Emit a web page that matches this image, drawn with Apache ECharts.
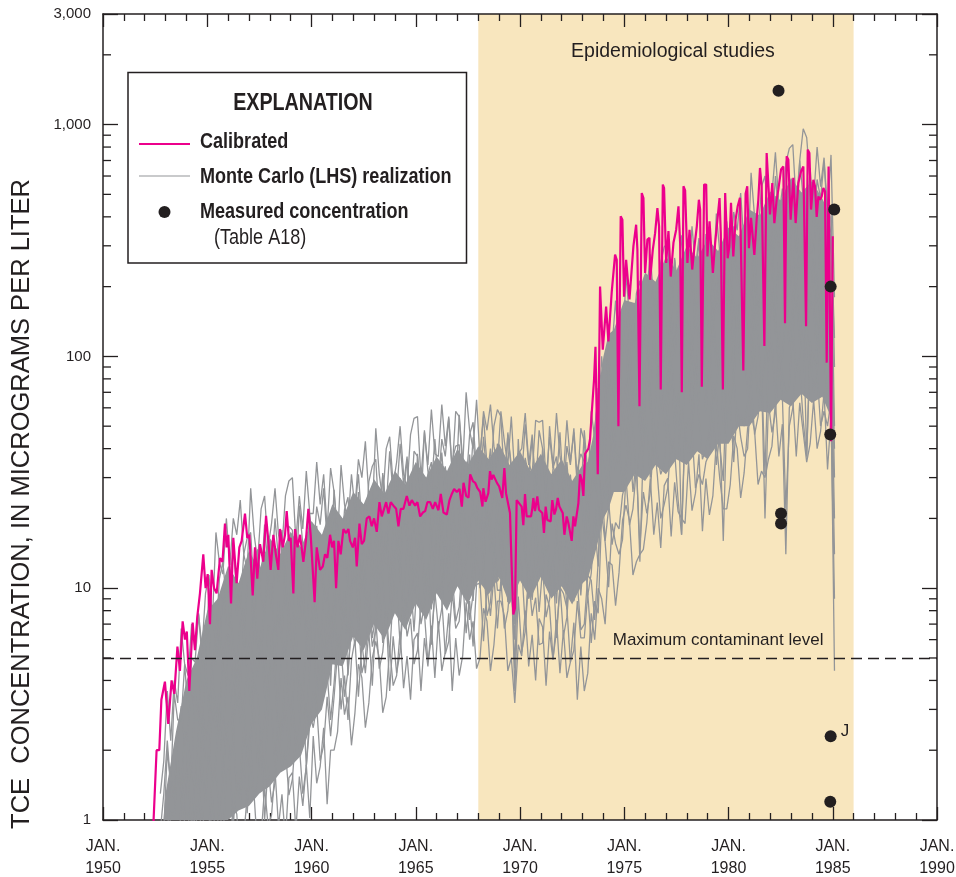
<!DOCTYPE html>
<html><head><meta charset="utf-8">
<script src="https://cdn.jsdelivr.net/npm/echarts@6/dist/echarts.min.js"></script>
<style>html,body{margin:0;padding:0;background:#fff;overflow:hidden}#c{width:956px;height:877px}</style>
</head><body><div id="c"></div>
<script>
const REG = '"Liberation Sans",Arial,sans-serif';
const INK = '#231f20';
const MAGENTA = '#EC008C';
const GRAY = '#939598';
const BAND = '#F8E6BE';
const NARROW_SCALE = 0.82;

// ---- axis / annotation values ----
const xRange = [1950, 1990];
const yRange = [1, 3000];
const yMinorTicks = [2,3,4,5,6,7,8,9,20,30,40,50,60,70,80,90,200,300,400,500,600,700,800,900,2000];
const studyPeriod = [1968.0, 1986.0];
const mclValue = 5;
const mclLabelYear = 1979.5;

// ---- calibrated simulation (year, value) ----
const calYear = [1952.38,1952.57,1952.7,1952.8,1952.97,1953.13,1953.29,1953.42,1953.57,1953.69,1953.82,1953.93,1954.02,1954.14,1954.3,1954.41,1954.52,1954.65,1954.81,1954.92,1955.02,1955.13,1955.21,1955.33,1955.45,1955.61,1955.73,1955.85,1955.93,1956.01,1956.14,1956.25,1956.41,1956.54,1956.65,1956.81,1956.92,1957.02,1957.18,1957.29,1957.4,1957.53,1957.69,1957.82,1957.93,1958.04,1958.17,1958.29,1958.41,1958.49,1958.62,1958.73,1958.81,1958.92,1959.0,1959.13,1959.21,1959.33,1959.45,1959.61,1959.73,1959.85,1959.96,1960.06,1960.15,1960.25,
1960.41,1960.54,1960.65,1960.76,1960.89,1960.99,1961.08,1961.18,1961.29,1961.4,1961.53,1961.66,1961.77,1961.85,1961.98,1962.09,1962.17,1962.3,1962.41,1962.52,1962.65,1962.78,1962.89,1963.0,1963.13,1963.26,1963.37,1963.48,1963.58,1963.69,1963.8,1963.93,1964.06,1964.17,1964.28,1964.41,1964.57,1964.7,1964.81,1964.97,1965.08,1965.21,1965.34,1965.45,1965.56,1965.69,1965.82,1965.93,1966.09,1966.2,1966.33,1966.49,1966.62,1966.73,1966.84,1966.97,1967.1,1967.21,1967.29,1967.42,1967.53,1967.61,1967.74,1967.85,1967.96,1968.09,1968.2,
1968.24,1968.35,1968.48,1968.56,1968.64,1968.72,1968.8,1968.9,1969.0,1969.09,1969.15,1969.25,1969.33,1969.41,1969.52,1969.6,1969.68,1969.76,1969.84,1969.92,1970.08,1970.16,1970.24,1970.32,1970.43,1970.53,1970.59,1970.64,1970.72,1970.83,1970.91,1970.99,1971.07,1971.15,1971.23,1971.31,1971.39,1971.47,1971.55,1971.65,1971.73,1971.81,1971.89,1971.97,1972.05,1972.13,1972.24,1972.32,1972.4,1972.48,1972.56,1972.64,1972.72,1972.8,1972.88,1972.96,1973.04,1973.12,1973.28,1973.36,1973.44,1973.55,1973.62,1973.73,1973.84,
1973.97,1974.13,1974.24,1974.4,1974.56,1974.64,1974.72,1974.83,1974.91,1974.99,1975.09,1975.15,1975.25,1975.44,1975.57,1975.63,1975.73,1975.84,1975.92,1976.0,1976.11,1976.21,1976.24,1976.37,1976.48,1976.59,1976.67,1976.75,1976.85,1976.91,1977.01,1977.12,1977.23,1977.36,1977.49,1977.6,1977.68,1977.76,1977.84,1977.92,1978.03,1978.13,1978.26,1978.37,1978.48,1978.58,1978.64,1978.72,1978.83,1978.93,1978.99,1979.09,1979.25,1979.36,1979.47,1979.57,1979.63,1979.73,1979.84,1979.92,1979.96,1980.04,1980.12,1980.23,1980.34,1980.44,1980.55,1980.63,1980.71,1980.82,1980.9,1980.98,1981.08,1981.14,1981.24,1981.35,1981.43,1981.51,1981.59,1981.72,1981.83,1981.91,1981.99,1982.1,1982.2,1982.31,1982.39,1982.52,1982.63,1982.71,1982.79,1982.87,1982.98,1983.11,1983.22,1983.35,1983.48,1983.59,1983.72,1983.8,1983.88,1983.96,1984.07,1984.15,1984.23,1984.31,1984.39,1984.47,1984.55,1984.63,1984.71,1984.8,1984.92,1985.0];
const calValue = [0.8,2.0,2.0,3.3,3.95,2.6,4.0,3.5,5.6,4.4,7.2,6.0,6.5,3.6,7.1,5.4,7.5,9.5,14,10,11.5,7,12,10,9.5,13.5,13,19,15,17,8.6,16.5,10.5,15,16,21,16.5,17,9.3,15,11,15.5,13,20.5,16,12,17,14,12,18,15,17,21.5,16,16.5,9.5,18,15,17,13,16,22,17,12,8.7,15,
12,12.4,14,13.5,17,15,16,10,16,14,18,17.3,18,16,15,16.5,12.4,19,15.5,16,20,20.4,18.5,20,17.5,23.5,20.4,22,23.5,21,23.5,22.7,22,18.5,22,22,25,22.7,24,22.7,23.5,20.4,21.2,21.5,23.5,23.5,22,23.5,21.7,25.5,21.2,20.8,24,25.5,26.8,26,26.8,22.5,28.5,25,24.6,31,29,28.5,27,26,22.5,
27,23.6,25.7,32,29.4,30.8,30.3,28.4,27.5,27.9,24.5,33,25.7,25.2,21.1,12.4,7.7,8.2,24,23.6,22.5,18.7,25.5,20.4,20.4,20.4,22.1,24.5,21.5,24.9,21.8,22.2,21.1,17.3,22.5,19.7,19.4,19.4,24,20.8,22,24.5,22.5,22.5,21.1,17,20.4,19.1,19.4,16,20.4,18.5,18.5,23.3,31,29.4,25,38,40,44,57,79,110,31,200,
107,164,116,190,275,261,50,402,389,181,261,261,176,299,370,289,61,507,482,229,319,325,214,289,340,436,364,72,551,532,253,347,221,309,352,444,309,70,542,520,253,352,237,299,364,474,430,74,551,551,270,383,229,309,389,482,340,72,507,500,265,298,460,270,389,444,483,490,87,503,542,293,396,389,274,389,474,650,542,111,754,742,410,560,376,474,524,640,660,139,730,706,389,589,376,560,629,660,135,780,754,430,578,542,400,490,474,490,533,515,94,660,43,330];

// ---- measured concentrations (Table A18) ----
const measYear  = [1982.4, 1982.52, 1982.52, 1985.07, 1984.9, 1984.88, 1984.9, 1984.88];
const measValue = [1400, 21, 19, 430, 200, 46, 2.3, 1.2];
const measQualifier = ['', '', '', '', '', '', 'J', ''];

// ---- dense core of the Monte Carlo envelope (year, high, low) ----
const coreYear = [1952.9,1953.0,1953.5,1954.0,1954.5,1955.0,1955.5,1956.0,1956.5,1957.0,1957.5,1958.0,1958.5,1959.0,1959.5,1960.0,1960.5,1961.0,1961.5,1962.0,1962.5,1963.0,1963.5,1964.0,1964.5,1965.0,1965.5,1966.0,1966.5,1967.0,1967.5,1968.0,1968.5,1969.0,1969.5,1970.0,1970.5,1971.0,1971.5,1972.0,1972.5,1973.0,1973.25,1973.5,1973.75,1974.0,1974.25,1974.5,1975.0,1975.5,1976.0,1976.5,1977.0,1977.5,1978.0,1978.5,1979.0,1979.5,1980.0,1980.5,1981.0,1981.5,1982.0,1982.5,1983.0,1983.5,1984.0,1984.5,1984.9];
const coreHigh = [1.0,1.3,2.4,4.0,5.0,8.0,9.0,12.5,10.5,14.5,12,16.5,14,17.5,15,19.5,17,23,20,26,23,29.5,25.5,32,28,35,30,37,32,40,34,41,36,42,34,39,32,38,31,36,29,34,35,45,70,100,125,130,175,170,230,210,270,235,300,265,320,285,360,330,430,405,515,470,590,510,570,480,400];
const coreLow  = [0.5,0.5,0.6,0.7,0.8,0.85,0.9,1.0,1.1,1.15,1.3,1.4,1.6,1.7,1.9,2.6,3.0,4.7,4.6,6.2,5.4,7.0,6.0,7.8,6.6,8.6,7.3,9.5,8.0,10.2,8.5,10.8,9.4,11.2,8.5,10.8,9.0,11.2,9.0,10.2,8.5,10.5,11,13,16,20,22,26,26,31,29,34,31,36,34,39,36,42,42,50,50,58,57,65,61,69,63,67,55];

// ---- Monte Carlo (LHS) realizations: bi-monthly values from Oct 1952 ----
const mcStartYear = 1952.75;
const mcStepYear = 1 / 6;
const mcRunA = [1.3,1.8, 3.6,2.2,4.0,3.2,6.7,4.7, 4.2,7.0,5.5,7.8,5.5,9.5, 11.4,7.3,17.4,12.9,11.5,20, 12.6,20,17,24,14,12, 27,17,13,22,25,15, 19,27,17,15,25,29, 30,16,25,18,32,21, 21,35,23,31,18,33, 26,16,34,23,19,31, 22,36,30,43,25,21, 49,31,24,40,45,28, 35,50,31,27,46,54, 55,30,47,34,59,38, 37,62,41,55,32,58, 55,33,70,48,40,65, 36,58,48,62,41,34, 58,43,34,55,30,38, 40,57,35,31,53,52, 53,29,45,33,57,37, 31,53,35,47,27,49, 43,25,58,44,51,100, 66,120,110,174,110,98, 228,146,114,187,212,130, 191,276,170,148,254,297, 309,166,261,190,333,214, 216,364,243,324,189,337, 324,192,413,280,236,383, 262,420,350,507,297,245, 620,400,330,540,600,380, 500,760,450,400,680,790, 820,450,700,960,880,560, 480,800,540,720,420,740, 180];
const mcRunB = [0.9,1.3, 2.2,1.4,3.5,2.7,2.7,4.7, 2.9,5.0,4.8,7.7,5.0,4.7, 10,7.0,6.1,11,13,8.8, 10.6,15,9.4,8.3,14,16.5, 17.4,9.4,14.7,10.7,18.8,12, 11.8,20,13.3,17.8,10.4,18.5, 17.8,10.5,22.7,15.4,13,21, 14,22.5,18.8,27,16,13, 26.6,17,13.3,21.8,24.7,15.2, 21.6,31,19,16.8,28.8,33.6, 36,19.6,30.8,22.4,39,25, 25,42,28,37,22,39, 37,22,48,32,27,44, 28,44,37,54,31,26, 56,36,28,46,52,32, 38,55,34,29,50,59, 55,29,46,34,29,38, 30,51,34,46,27,48, 40,23,50,34,29,47, 26,41,34,49,29,24, 48,31,25,46,73,64, 63,104,70,67,125,157, 169,91,143,104,182,117, 136,230,153,204,119,212, 209,124,266,180,152,247, 162,259,216,313,184,151, 330,212,165,271,307,189, 252,364,224,196,336,392, 416,224,352,256,448,288, 340,600,400,530,310,560, 560,330,700,480,400,650, 360,580,480,690,400,340, 120];
const mcRunC = [0.6,0.9, 2.0,1.4,1.3,2.3,3.1,2.1, 2.5,3.9,2.7,2.7,5.0,6.7, 6.8,3.9,6.8,5.4,10,7.0, 6.7,11.3,7.6,10,5.9,10.5, 10.6,6.2,13.4,9.1,7.7,12.5, 8.0,12.7,10.6,15.4,9.0,7.4, 16.2,10.4,8.1,13.3,15,9.3, 12.9,18.6,11.4,10,17.2,20, 19.8,10.6,16.7,12.2,21.3,13.7, 15.4,26,17.3,23,13.4,24, 24.6,14.6,31.4,21.3,17.9,29, 18.6,29.8,24.8,36,21,17.4, 38,24.5,19,31,35,21.8, 26.6,38.5,23.7,20.7,35.5,41, 41.6,22.4,35.2,25.6,44.8,28.8, 27,45,30,40,23.5,42, 37,22,47,32,14,44, 23,36.5,30.4,44,26,21.3, 40,26,20,33,37,23, 24.5,35,21.8,19,32.6,38, 35,19,32,26,63,58, 45,86,63,92,58,112, 114,68,146,99,83,135, 102,163,136,197,116,95, 213,137,106,175,198,122, 156,225,138,121,208,242, 246,132,208,151,265,170, 179,302,202,269,157,280, 282,166,358,243,205,333, 222,355,296,429,252,207, 470,302,235,386,437,269, 288,416,256,224,384,448, 90];
const mcRunD = [0.45,0.7, 0.84,1.6,1.2,1.8,1.3,2.4, 2.3,1.5,3.6,2.7,2.5,4.7, 2.9,5.0,4.7,7.4,4.6,4.1, 8.8,5.7,4.4,7.2,8.2,5.0, 6.5,9.4,5.8,5.0,8.6,10, 10.4,5.6,8.8,6.4,11.2,7.2, 7.0,11.7,7.8,10.4,6.1,10.9, 11.6,6.8,14.7,10,8.4,13.7, 9.3,14.9,12.4,18,10.5,8.7, 21.8,14,10.9,18,20.3,12.5, 16.4,23.7,14.6,12.7,21.8,25.5, 26.3,14.1,22.2,16.2,28.3,18.2, 17.7,29.8,19.9,26.5,15.5,27.6, 26.4,15.6,33.6,22.8,19.2,31.2, 19.5,31.2,26,37.7,22.1,18.2, 38.2,24.6,19.1,31.4,35.5,21.8, 24.6,35.5,21.8,19.1,12,38.2, 32,17.3,27.2,19.8,34.6,22.2, 18.7,31.6,21.1,28.1,16.4,29.3, 24.3,14.4,30.9,21,17.7,28.7, 16.5,26.4,23.4,37.7,30.6,36.4, 64,47,40,71,88,58, 76,110,68,59,101,118, 143,77,121,88,154,99, 99,167,111,148,86,154, 154,91,196,133,112,182, 115,184,153,222,130,107, 255,164,127,209,237,146, 187,270,166,146,250,291, 312,168,264,192,336,216, 218,369,246,328,191,341, 286,169,364,247,208,338, 50];
const mcRunE = [0.35,0.55, 0.6,1.1,1.04,1.7,1.2,1.05, 2.2,1.5,1.4,2.5,3.1,2.2, 2.7,4.2,2.9,2.7,4.9,6.3, 6.2,3.4,5.3,3.8,6.7,4.3, 4.4,7.4,5.0,6.6,3.9,6.9, 6.7,4.0,8.5,5.8,4.9,7.9, 5.0,8.0,6.7,9.7,5.7,4.7, 11.2,7.2,5.6,9.2,10.4,6.4, 9.0,13,8.0,7.0,12,14, 16.4,8.8,13.9,10.1,17.6,11.3, 11.8,19.8,13.2,17.6,10.3,18.4, 17.9,10.6,22.8,15.5,13,21.2, 13.4,21.5,17.9,26,15.2,12.5, 27.2,17.5,13.6,22.3,25.2,15.5, 18.9,27.3,16.8,14.7,25.2,29.4, 28.6,15.4,24.2,17.6,30.8,19.8, 17.6,29.7,19.8,26.4,9,27.5, 22,13,28,19,16,26, 14.2,22.7,18.9,27.4,16,13.2, 25,16.1,12.5,20.6,23.2,14.3, 16.1,23.2,15.1,14.7,35.3,59, 48,29,51,40,77,53, 54,92,61,82,48,85, 98,58,125,85,71,116, 75,120,100,145,85,70, 158,102,79,130,147,90, 112,161,99,87,149,174, 191,103,162,118,206,132, 134,227,151,202,118,210, 213,126,272,184,155,252, 165,264,220,319,187,154, 294,189,147,242,273,168, 40];
const mcRunF = [0.3,0.4, 0.54,0.88,0.62,0.6,1.2,1.55, 1.56,0.9,1.6,1.3,2.5,1.8, 1.8,3.2,2.3,3.5,2.2,4.1, 4.0,2.3,5.0,3.4,2.9,4.7, 3.1,4.9,4.1,5.9,3.5,2.9, 6.3,4.1,3.2,5.2,5.9,3.6, 4.4,6.4,3.9,3.4,5.9,6.9, 8.3,4.5,7.0,5.1,9.0,5.8, 6.5,10.9,7.3,9.7,5.7,10.1, 11.2,6.6,14.3,9.7,8.2,13.3, 8.9,14.3,11.9,17.3,10.1,8.3, 18.5,11.9,9.2,15.2,17.2,10.6, 13,18.9,11.6,10.2,17.4,20.3, 20.4,11,17.3,12.6,22,14.1, 13.6,23,15.3,20.4,11.9,21.3, 19.7,11.6,25,17,14.3,23.3, 13.4,21.5,17.9,26,7,12.5, 22.7,14.6,11.3,18.6,21,13, 13.8,19.9,12.2,10.7,18.4,21.4, 18.9,10.2,16,11.6,20.3,13, 11.6,19.6,13.8,20.4,16.7,42.5, 33,22,52,39,35,62, 41,66,55,80,47,39, 101,65,50,83,94,58, 73,105,65,57,97,113, 120,64,101,74,129,83, 80,135,90,120,70,125, 131,77,167,113,95,155, 102,163,136,197,116,95, 220,141,110,181,204,126, 160,231,142,125,214,249, 221,119,187,136,238,153, 30];
const mcRunG = [0.2,0.3, 0.39,0.7,0.45,0.68,0.52,1.05, 1.09,0.65,1.26,1.06,1.76,1.19, 2.1,1.4,1.8,2.9,1.45,2.6, 1.8,2.2,3.8,2.6,3.1,1.95, 2.4,3.9,3.45,2.1,2.7,4.2, 4.6,4.0,2.3,2.6,4.3,3.0, 3.2,5.0,2.9,4.0,2.5,4.7, 6.0,3.4,5.8,4.3,6.5,3.8, 8.4,5.2,6.2,9.1,4.2,7.1, 5.7,7.0,11.9,8.2,9.8,6.1, 7.6,12.4,10.9,6.7,8.6,13.3, 14.7,12.6,7.4,8.4,13.7,9.5, 10.4,16.2,9.3,12.8,8.1,15.1, 15.7,8.8,15.1,11.3,17,10.1, 17.7,10.9,12.9,19,8.8,15, 10,12.2,20.7,14.3,17.2,10.7, 11.4,18.6,16.4,10,6,20, 18,15.5,9,10.3,16.8,11.6, 11,17.1,9.8,13.4,8.6,15.9, 14.5,8.1,13.9,10.4,15.7,9.3, 15.1,9.3,11.6,19,12.4,29.7, 16,22,42,32,41,28, 34,56,49,30,39,60, 78,67,39,45,73,50, 57,88,50,69,44,82, 89,50,85,64,96,57, 101,62,74,109,51,86, 64,78,133,92,110,69, 85,138,122,74,95,148, 171,146,85,98,159,110, 125,195,111,153,97,181, 165,92,158,119,178,106, 20];
const mcRunH = [0.15,0.2, 0.42,0.29,0.38,0.63,0.35,0.65, 0.44,0.58,1.1,0.86,1.14,0.81, 0.94,1.64,1.6,1.07,1.46,2.46, 2.7,2.3,1.33,1.5,2.5,1.7, 2.0,3.1,1.76,2.4,1.5,2.9, 3.0,1.7,2.9,2.2,3.2,1.9, 3.4,2.1,2.5,3.6,1.7,2.9, 2.5,3.1,5.2,3.6,4.3,2.7, 3.9,6.4,5.6,3.4,4.4,6.9, 8.7,7.4,4.3,5.0,8.1,5.6, 6.6,10.2,5.8,8.0,5.1,9.5, 10.1,5.7,9.7,7.3,10.9,6.5, 11.4,7.0,8.4,12.3,5.7,9.7, 6.7,8.2,13.9,9.6,11.5,7.2, 8.3,13.5,12,7.3,9.4,14.6, 15.3,13.1,7.6,8.7,14.2,9.8, 9.8,15.3,8.7,12,4.5,14.2, 12.4,6.9,11.9,8.9,13.4,7.9, 12.2,7.5,8.9,13.2,6.1,10.3, 6.2,7.5,12.8,8.8,10.6,6.6, 7.0,11.4,10.8,7.3,13.1,29, 24.5,24,15.4,19.2,18,25.2, 29,45,26,36,13,42, 53,30,51,38,31,34, 62,38,45,66,17,52, 38,46,78,54,36,40, 47,77,68,41,29,83, 98,84,49,56,50,63, 72,112,64,88,31,104, 116,65,111,83,69,74, 137,84,100,147,37,116, 70,85,145,100,66,75, 14];
const mcRunI = [0.1,0.15, 0.18,0.34,0.33,0.22,0.34,0.59, 0.63,0.58,0.38,0.49,0.87,0.69, 0.75,1.26,0.79,1.2,0.8,1.6, 1.7,0.94,1.6,1.2,1.8,1.07, 2.0,1.23,1.46,2.2,1.0,1.7, 1.19,1.45,2.5,1.7,2.0,1.28, 1.5,2.4,2.1,1.3,1.7,2.6, 3.6,3.1,1.8,2.1,3.4,2.3, 3.4,5.3,3.0,4.2,2.7,4.9, 6.0,3.4,5.8,4.3,6.5,3.8, 7.3,4.5,5.3,7.8,3.6,6.2, 4.3,5.3,9.0,6.2,7.4,4.7, 5.4,8.8,7.8,4.8,6.1,9.5, 10.4,8.9,5.2,5.9,9.6,6.7, 7.2,11.2,6.4,8.8,5.6,10.4, 10.5,5.9,10.1,7.6,11.3,6.7, 10.9,6.7,8.0,11.8,3.6,9.2, 5.3,6.5,11,7.6,9.1,5.7, 5.8,9.4,8.3,5.0,6.5,10.1, 9.5,8.2,4.8,5.4,8.8,6.1, 6.1,9.5,5.8,8.8,7.8,20.8, 15.8,10.1,19,15.6,14,16.2, 30,18.7,22,33,15.2,26, 21,26,44,31,20,23, 27,44,39,24,17,48, 54,47,27,31,28,35, 38,60,34,47,16,55, 63,35,60,45,37,40, 75,46,55,81,20,63, 47,57,97,67,22,50, 60,98,87,53,37,106, 101,86,50,58,50,65, 4.4];
const mcRunJ = [0.08,0.1, 0.19,0.13,0.24,0.2,0.35,0.23, 0.4,0.26,0.35,0.59,0.3,0.58, 0.4,0.53,0.99,0.75,0.95,0.65, 0.74,1.2,1.06,0.64,0.83,1.29, 1.48,1.27,0.74,0.85,1.38,0.95, 1.05,1.64,0.94,1.29,0.82,1.52, 1.6,0.9,1.54,1.15,1.73,1.02, 2.3,1.44,1.7,2.5,1.17,2.0, 2.0,2.4,4.1,2.85,3.4,2.1, 2.9,4.7,4.1,2.5,3.2,5.0, 5.9,5.0,2.9,3.4,5.5,3.8, 4.2,6.5,3.7,5.1,3.3,6.0, 6.4,3.6,6.1,4.6,6.9,4.1, 7.2,4.4,5.3,7.8,3.6,6.1, 4.2,5.1,8.7,6.0,7.2,4.5, 5.0,8.2,7.2,4.4,5.7,8.8, 8.8,7.6,4.4,5.0,3.2,5.7, 5.1,8.0,4.6,6.3,4.0,7.4, 6.8,3.8,6.5,4.9,7.3,4.3, 6.6,4.1,4.8,7.1,3.3,5.6, 3.6,4.3,7.8,6.0,10,9, 7.0,13,12.6,8.4,11.7,19.6, 22.8,19.6,11.4,13,14,14.7, 19.2,29.8,17,23.4,14.9,27.7, 29.8,16.7,28.6,21.4,20,19, 35,21.6,25.7,37.8,17.6,29.7, 20.7,25,42.8,29.5,22,22, 28,45.5,40,24.5,31.5,49, 56,48,28,32,30,36, 41,64,37,51,14,60, 66,37,63,47,35,42, 65,40,47.5,70,32.5,55, 9];
const mcRuns = [mcRunA, mcRunB, mcRunC, mcRunD, mcRunE, mcRunF, mcRunG, mcRunH, mcRunI, mcRunJ];

// ---- build chart ----
const chart = echarts.init(document.getElementById('c'), null, {renderer: 'canvas'});
const fmtNum = v => Math.round(v).toLocaleString('en-US');

const axisLineStyle = {color: INK, width: 1.5};
const xAxisBase = {
  type: 'value', min: xRange[0], max: xRange[1], interval: 5,
  axisLine: {show: true, onZero: false, lineStyle: axisLineStyle},
  axisTick: {show: true, inside: true, length: 13, lineStyle: {color: INK, width: 1.3}},
  minorTick: {show: true, splitNumber: 5, length: 7, lineStyle: {color: INK, width: 1.3}},
  splitLine: {show: false}, minorSplitLine: {show: false}
};
const yAxisBase = {
  type: 'log', logBase: 10, min: yRange[0], max: yRange[1],
  axisLine: {show: true, onZero: false, lineStyle: axisLineStyle},
  axisTick: {show: true, inside: true, length: 15, lineStyle: {color: INK, width: 1.3}},
  minorTick: {show: false}, splitLine: {show: false}, minorSplitLine: {show: false}
};

const series = [];
series.push({
  type: 'line', data: [], z: 0, silent: true, animation: false,
  markArea: {
    silent: true, z: 0,
    itemStyle: {color: BAND},
    label: {show: true, position: 'insideTop', distance: 28, offset: [7, 0],
      formatter: 'Epidemiological studies', color: INK, fontFamily: REG, fontSize: 19.5},
    data: [[{xAxis: studyPeriod[0]}, {xAxis: studyPeriod[1]}]]
  }
});
// dense core of the realization envelope
series.push({
  type: 'custom', z: 1, silent: true, animation: false, clip: true,
  data: [[coreYear[0], coreHigh[0]]],
  renderItem: function (params, api) {
    const pts = [];
    for (let i = 0; i < coreYear.length; i++) pts.push(api.coord([coreYear[i], coreHigh[i]]));
    for (let i = coreYear.length - 1; i >= 0; i--) pts.push(api.coord([coreYear[i], coreLow[i]]));
    return {type: 'polygon', shape: {points: pts}, style: {fill: GRAY}};
  }
});
mcRuns.forEach((run) => {
  series.push({
    type: 'line', name: 'Monte Carlo (LHS) realization', z: 2, silent: true, animation: false,
    symbol: 'none',
    lineStyle: {color: GRAY, width: 1.3},
    data: run.map((v, k) => [mcStartYear + k * mcStepYear, v])
  });
});
series.push({
  type: 'line', name: 'Calibrated', z: 4, silent: true, animation: false, symbol: 'none',
  lineStyle: {color: MAGENTA, width: 2.2},
  data: calYear.map((y, i) => [y, calValue[i]]),
  markLine: {
    silent: true, symbol: 'none', animation: false,
    lineStyle: {color: INK, type: [11, 6], width: 1.3},
    label: {show: false},
    data: [{yAxis: mclValue}]
  },
  markPoint: {
    silent: true, animation: false,
    data: [{coord: [mclLabelYear, mclValue], symbol: 'circle', symbolSize: 1,
      itemStyle: {color: 'rgba(0,0,0,0)'},
      label: {show: true, position: 'inside', offset: [0, -18], formatter: 'Maximum contaminant level',
        color: INK, fontFamily: REG, fontSize: 17}}]
  }
});
series.push({
  type: 'scatter', name: 'Measured concentration', z: 6, silent: true, animation: false,
  symbol: 'circle', symbolSize: 12, itemStyle: {color: INK, opacity: 1},
  data: measYear.map((y, i) => ({
    value: [y, measValue[i]],
    label: measQualifier[i] ? {show: true, formatter: measQualifier[i], position: 'right', distance: 4,
      offset: [0, -5], color: INK, fontFamily: REG, fontSize: 17} : {show: false}
  }))
});
series.push({
  type: 'custom', z: 8, silent: true, animation: false, clip: false,
  data: yMinorTicks.map(v => [xRange[0], v]),
  renderItem: function (params, api) {
    const v = api.value(1);
    const pl = api.coord([xRange[0], v]);
    const pr = api.coord([xRange[1], v]);
    return {type: 'group', children: [
      {type: 'line', shape: {x1: pl[0], y1: pl[1], x2: pl[0] + 8, y2: pl[1]}, style: {stroke: INK, lineWidth: 1.3}},
      {type: 'line', shape: {x1: pr[0] - 8, y1: pr[1], x2: pr[0], y2: pr[1]}, style: {stroke: INK, lineWidth: 1.3}}
    ]};
  }
});

function legendText(x, y, text, font) {
  return {type: 'text', x: x, y: y, scaleX: NARROW_SCALE,
    style: {text: text, font: font, fill: INK, align: 'left', verticalAlign: 'middle'}};
}

const option = {
  animation: false,
  backgroundColor: '#ffffff',
  grid: {left: 103, right: 19, top: 14, bottom: 57, containLabel: false, outerBoundsMode: 'none'},
  xAxis: [
    Object.assign({}, xAxisBase, {position: 'bottom',
      axisLabel: {show: true, formatter: v => 'JAN.\n' + v, color: INK, fontFamily: REG, fontSize: 16,
        lineHeight: 22, margin: 16, showMinLabel: true, showMaxLabel: true}}),
    Object.assign({}, xAxisBase, {position: 'top', axisLabel: {show: false}})
  ],
  yAxis: [
    Object.assign({}, yAxisBase, {position: 'left',
      axisLabel: {show: true, formatter: fmtNum, color: INK, fontFamily: REG, fontSize: 15, margin: 12,
        showMinLabel: true, showMaxLabel: true}}),
    Object.assign({}, yAxisBase, {position: 'right', axisLabel: {show: false}})
  ],
  series: series,
  graphic: [
    {type: 'text', x: 22, y: 504, rotation: Math.PI / 2, z: 50,
      style: {text: 'TCE  CONCENTRATION, IN MICROGRAMS PER LITER', font: '25.5px ' + REG, fill: INK,
        align: 'center', verticalAlign: 'middle'}},
    {type: 'group', z: 100, children: [
      {type: 'rect', shape: {x: 128, y: 72.5, width: 338.5, height: 190.5},
        style: {fill: '#ffffff', stroke: INK, lineWidth: 1.5}},
      {type: 'text', x: 303, y: 103, scaleX: NARROW_SCALE,
        style: {text: 'EXPLANATION', font: 'bold 24px ' + REG, fill: INK, align: 'center', verticalAlign: 'middle'}},
      {type: 'line', shape: {x1: 139, y1: 144, x2: 190, y2: 144}, style: {stroke: MAGENTA, lineWidth: 2}},
      legendText(200, 142, 'Calibrated', 'bold 22px ' + REG),
      {type: 'line', shape: {x1: 139, y1: 176, x2: 190, y2: 176}, style: {stroke: GRAY, lineWidth: 1}},
      legendText(200, 177, 'Monte Carlo (LHS) realization', 'bold 22px ' + REG),
      {type: 'circle', shape: {cx: 164.5, cy: 212, r: 6}, style: {fill: INK}},
      legendText(200, 212, 'Measured concentration', 'bold 22px ' + REG),
      legendText(214, 238, '(Table A18)', '22px ' + REG)
    ]}
  ]
};
chart.setOption(option);
</script>
</body></html>
